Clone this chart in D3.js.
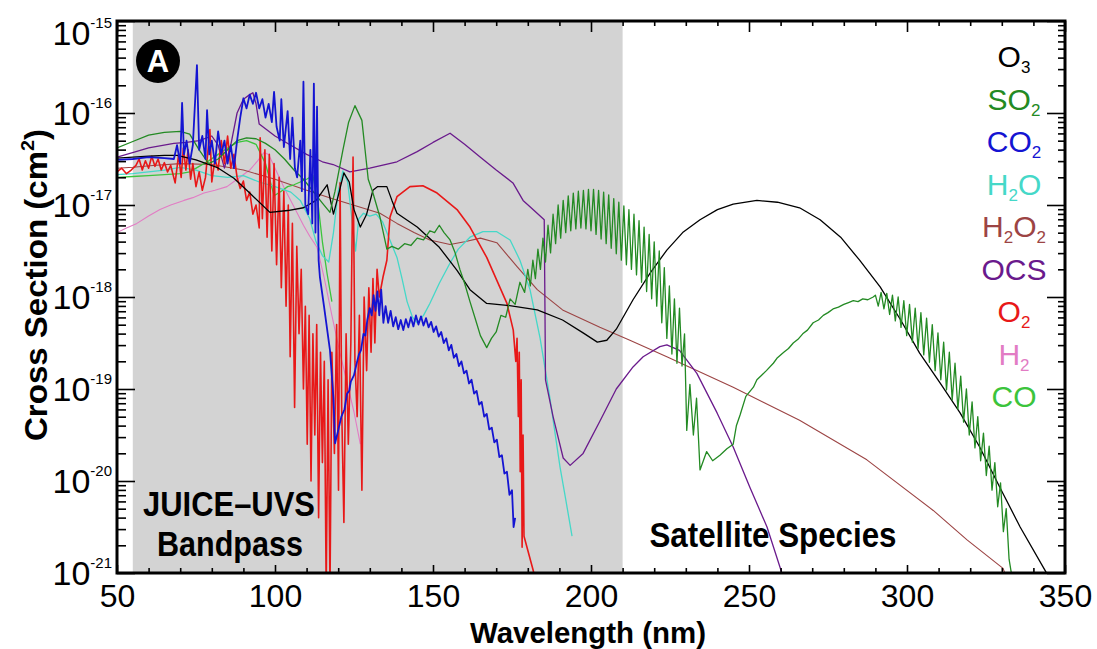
<!DOCTYPE html>
<html><head><meta charset="utf-8">
<script src="https://cdn.jsdelivr.net/npm/d3@7"></script>
<style>body{margin:0;background:#fff}svg{display:block}text{font-family:"Liberation Sans",Arial,sans-serif}</style>
</head><body><svg id="c" width="1097" height="649"></svg>
<script>
// ---------- data (wavelength nm, log10 cross-section cm^2) ----------
const xTicks = [50,100,150,200,250,300,350];
const yExps = [-21,-20,-19,-18,-17,-16,-15];
const bandpass = [55,210];
const legendNames = ["O_3","SO_2","CO_2","H_2O","H_2O_2","OCS","O_2","H_2","CO"];
const seriesColors = ["#000000","#238a23","#1414d2","#45d8c8","#9c4444","#6a1a8c","#e81818","#e27cc4","#3cc43c"];

const O3 = [[50,-16.49],[55,-16.48],[60,-16.47],[65,-16.46],[69,-16.46],[75,-16.51],[81.6,-16.59],[87,-16.71],[92,-16.87],[98.4,-17.08],[104,-17.06],[109,-17.03],[113,-16.95],[116.5,-16.78],[118.5,-17.10],[120,-16.90],[121.8,-16.65],[123.5,-16.75],[125,-17.05],[127,-17.24],[129,-17.10],[131,-16.84],[132.5,-16.80],[135.4,-16.80],[137,-16.95],[138.6,-17.09],[145,-17.24],[152,-17.46],[157.6,-17.71],[161.7,-17.92],[167,-18.07],[173.4,-18.09],[183,-18.14],[191,-18.25],[197.5,-18.39],[202,-18.49],[205,-18.47],[208,-18.35],[213.3,-18.03],[218.7,-17.74],[224,-17.49],[229,-17.30],[234.5,-17.16],[240,-17.05],[245,-16.99],[252.5,-16.95],[259,-16.97],[266,-17.03],[272.5,-17.16],[279,-17.35],[285,-17.60],[291.5,-17.89],[298,-18.25],[304,-18.61],[310.4,-18.93],[316.8,-19.26],[323,-19.63],[329.4,-20.07],[335.8,-20.50],[344,-20.99],[345,-21.10]];

const SO2 = [[50,-16.38],[55,-16.31],[60,-16.24],[65,-16.21],[70,-16.20],[73,-16.23],[76,-16.40],[79,-16.55],[82,-16.50],[85,-16.40],[88,-16.30],[91,-16.27],[94,-16.28],[97,-16.33],[100,-16.40],[103,-16.50],[106,-16.62],[109,-16.72],[112,-16.85],[115,-16.98],[117.4,-17.08],[119,-16.85],[121.5,-16.40],[123.3,-16.10],[125.3,-15.92],[127.5,-16.08],[128.5,-16.40],[129.5,-16.72],[131,-16.87],[133.2,-17.13],[135.4,-17.48],[137,-17.45],[139,-17.48],[141,-17.42],[143,-17.44],[145,-17.36],[147,-17.38],[149,-17.28],[150.5,-17.30],[152,-17.22],[153.5,-17.30],[155.4,-17.38],[157,-17.52],[158.5,-17.70],[160,-17.85],[161.7,-18.05],[163.5,-18.25],[165,-18.42],[167,-18.55],[168.5,-18.45],[170,-18.38],[171.5,-18.20],[173,-18.22],[174.4,-18.02],[176,-18.08],[177.5,-17.84],[179,-17.95],
[180.0,-17.70],[180.8,-17.88],[181.6,-17.60],[182.4,-17.80],[183.2,-17.48],[184.0,-17.70],[184.8,-17.36],[185.6,-17.62],[186.4,-17.22],[187.2,-17.52],[188.0,-17.10],[188.8,-17.42],[189.6,-17.00],[190.4,-17.36],[191.2,-16.95],[192.0,-17.30],[192.8,-16.90],[193.6,-17.28],[194.4,-16.87],[195.2,-17.26],[196.0,-16.85],[196.8,-17.25],[197.6,-16.84],[198.4,-17.26],[199.2,-16.83],[200.0,-17.28],[200.8,-16.83],[201.6,-17.32],[202.4,-16.84],[203.2,-17.37],[204.0,-16.86],[204.8,-17.42],[205.6,-16.89],[206.4,-17.47],[207.2,-16.93],[208.0,-17.53],[208.8,-16.97],[209.6,-17.60],[210.4,-17.01],[211.2,-17.65],[212.0,-17.05],[212.8,-17.70],[213.6,-17.10],[214.4,-17.76],[215.2,-17.17],[216.0,-17.84],[216.8,-17.24],[217.6,-17.94],[218.4,-17.32],[219.2,-18.02],[220.0,-17.40],[220.8,-18.10],[221.6,-17.50],[222.4,-18.28],[223.2,-17.68],[224.0,-18.45],[224.8,-17.88],[225.6,-18.62],[226.4,-18.02],[227.2,-18.72],[228.0,-18.12],[228.8,-18.75],[229.6,-18.40],[230.3,-19.45],[231.3,-18.95],[232.4,-19.50],[233.4,-19.10],[234.5,-19.88],[236.6,-19.68],[238.5,-19.78],[240.8,-19.72],[243,-19.65],[245,-19.60],[246,-19.40],[247.2,-19.28],[249,-19.08],[251.4,-18.98],[252.5,-18.90],[254,-18.85],[255.5,-18.80],[257.7,-18.72],[259,-18.66],[261,-18.60],[262.5,-18.56],[264,-18.50],[265.5,-18.46],[267,-18.40],[268.5,-18.36],[270.3,-18.28],[272,-18.25],[273.5,-18.20],[275,-18.17],[276.6,-18.13],[278.3,-18.11],[280,-18.08],[281.5,-18.06],[283,-18.04],[284.5,-18.05],[286,-18.02],[287.6,-18.03],[289.3,-18.00],
[290.0,-17.98],[290.9,-18.10],[291.8,-17.95],[292.7,-18.13],[293.6,-17.96],[294.5,-18.19],[295.4,-17.98],[296.3,-18.26],[297.2,-18.00],[298.1,-18.33],[299.0,-18.04],[299.9,-18.42],[300.8,-18.08],[301.7,-18.49],[302.6,-18.12],[303.5,-18.56],[304.4,-18.17],[305.3,-18.63],[306.2,-18.23],[307.1,-18.71],[308.0,-18.30],[308.9,-18.80],[309.8,-18.39],[310.7,-18.90],[311.6,-18.49],[312.5,-19.01],[313.4,-18.60],[314.3,-19.12],[315.2,-18.72],[316.1,-19.22],[317.0,-18.86],[317.9,-19.36],[318.8,-19.00],[319.7,-19.50],[320.6,-19.14],[321.5,-19.64],[322.4,-19.30],[323.3,-19.78],[324.2,-19.48],[325.1,-19.94],[326.0,-19.62],[326.9,-20.10],[327.8,-19.80],[328.7,-20.28],[329.6,-20.02],[330.5,-20.55],[331.4,-20.30],[332.3,-20.85],[333.5,-21.10]];

const CO2 = [[50,-16.51],[55,-16.50],[60,-16.48],[65,-16.49],[68,-16.50],[69,-16.35],[70,-16.55],[70.6,-15.89],[71.2,-16.45],[72,-16.30],[73,-16.55],[74,-16.35],[75.3,-15.48],[76,-16.40],[77,-16.25],[78,-16.50],[78.5,-15.97],[79.2,-16.45],[80,-16.30],[81,-16.55],[82,-16.20],[83,-16.45],[84,-16.30],[85,-16.55],[86,-16.35],[87,-16.60],[88,-16.30],[89,-16.05],[90,-15.84],[91,-15.95],[92,-15.80],[93,-15.90],[94,-15.78],[95,-15.95],[96,-15.85],[97,-16.05],[98,-15.90],[99,-16.10],[99.7,-15.77],[100.5,-16.15],[101.5,-16.30],[102,-15.85],[102.8,-16.37],[104,-15.98],[104.8,-16.50],[105.5,-16.05],[106.3,-16.60],[107,-16.70],[108,-16.30],[108.5,-16.85],[109,-15.66],[109.6,-17.00],[110.5,-17.10],[111.2,-16.40],[111.8,-17.20],[112.3,-15.68],[112.8,-17.30],[113.3,-15.93],[113.8,-17.60],[114.2,-17.78],[115.5,-18.10],[117.4,-18.58],[118.5,-19.10],[119,-19.59],[120,-19.45],[121,-19.30],[122,-19.22],[122.8,-19.05],[123.5,-19.02],[124,-18.92],[125,-18.85],[126,-18.70],[126.6,-18.62],[127.2,-18.58],[128,-18.40],[128.6,-18.42],[129.2,-18.25],[130,-18.12],[130.6,-18.20],[131.2,-17.98],[131.8,-18.15],[132.4,-17.94],[133,-18.20],[133.6,-17.92],[134.3,-18.28],[135,-18.10],[135.8,-18.28],[136.6,-18.15],[137.4,-18.32],[138.2,-18.22],[139,-18.35],[139.8,-18.25],[140.6,-18.36],[141.4,-18.24],[142.2,-18.33],[143,-18.22],[143.8,-18.32],[144.6,-18.20],[145.4,-18.30],[146.2,-18.21],[147,-18.31],[147.8,-18.23],[148.6,-18.33],[149.4,-18.27],[150.2,-18.38],[151,-18.32],[151.8,-18.43],[152.6,-18.38],[153.4,-18.50],[154.2,-18.45],[155,-18.58],[155.8,-18.52],[156.6,-18.66],[157.4,-18.62],[158.2,-18.75],[159,-18.70],[159.8,-18.83],[160.6,-18.80],[161.4,-18.94],[162.2,-18.90],[163,-19.05],[163.8,-19.02],[164.6,-19.17],[165.4,-19.14],[166.2,-19.30],[167,-19.27],[167.8,-19.44],[168.6,-19.42],[169.4,-19.58],[170.2,-19.55],[171,-19.74],[171.8,-19.72],[172.6,-19.92],[173.4,-19.90],[174.2,-20.15],[175,-20.10],[175.5,-20.50],[176,-20.40]];

const H2O = [[50,-16.67],[55,-16.66],[60,-16.64],[65,-16.62],[70,-16.59],[75,-16.62],[80,-16.68],[85,-16.70],[90,-16.68],[95,-16.75],[100,-16.80],[105,-16.86],[108,-16.95],[111,-17.15],[113,-17.40],[115,-17.55],[117,-17.62],[118.5,-17.30],[120,-16.85],[121.5,-16.63],[123,-16.75],[124.5,-17.20],[125.5,-17.50],[126.5,-17.15],[128,-17.09],[130,-17.12],[132,-17.10],[134,-17.18],[136,-17.35],[138.6,-17.57],[140.2,-17.80],[141.8,-18.05],[143.5,-18.22],[145,-18.28],[147,-18.20],[149,-18.07],[152,-17.85],[155.4,-17.63],[158,-17.48],[161.7,-17.35],[165.8,-17.29],[170.2,-17.29],[174.4,-17.38],[177.5,-17.60],[180.7,-17.92],[183.9,-18.45],[187,-19.10],[190.2,-19.85],[192,-20.20],[194,-20.60]];

const H2O2 = [[50,-16.60],[55,-16.59],[61.4,-16.57],[70,-16.55],[80,-16.56],[90,-16.62],[100,-16.72],[110,-16.84],[118,-16.93],[124.7,-17.00],[133.2,-17.09],[138.6,-17.20],[144,-17.30],[149,-17.38],[155.4,-17.43],[160,-17.40],[165,-17.36],[170.2,-17.41],[176.6,-17.67],[183,-17.92],[191,-18.14],[202.8,-18.33],[212.3,-18.47],[224,-18.65],[245,-18.98],[266,-19.34],[287.3,-19.77],[308.3,-20.32],[319,-20.64],[330.4,-20.95],[331.5,-21.05]];

const OCS = [[50,-16.48],[56,-16.42],[60,-16.38],[68,-16.33],[72,-16.32],[76,-16.30],[80,-16.25],[82,-16.35],[84,-16.60],[86,-16.35],[88,-16.00],[90,-15.85],[92,-15.80],[93,-15.78],[94,-15.90],[95,-16.12],[100,-16.25],[105,-16.35],[110,-16.45],[115,-16.53],[118.4,-16.56],[123.7,-16.64],[130,-16.60],[138.6,-16.53],[145,-16.42],[150,-16.32],[155.4,-16.22],[160,-16.34],[165,-16.48],[170,-16.62],[175.3,-16.76],[178.5,-16.95],[182,-17.06],[185.2,-17.16],[185.4,-18.00],[185.6,-18.90],[188,-19.30],[191.2,-19.75],[193.4,-19.83],[197.5,-19.70],[202.8,-19.35],[208,-19.00],[213.3,-18.76],[216.5,-18.65],[221.8,-18.54],[224,-18.52],[228,-18.58],[233.5,-18.83],[239.9,-19.26],[245,-19.63],[250.3,-20.07],[255.7,-20.50],[260.4,-21.00],[261,-21.10]];

const O2 = [[50,-16.64],[51.5,-16.60],[53,-16.66],[54.5,-16.62],[56,-16.57],[57,-16.50],[58,-16.62],[59,-16.52],[60,-16.60],[61,-16.47],[62,-16.58],[63,-16.50],[64,-16.62],[65,-16.54],[66,-16.64],[67,-16.57],[68.4,-16.76],[69.5,-16.45],[70.3,-16.70],[71,-16.38],[71.8,-16.62],[72.5,-16.40],[73.3,-16.72],[74,-16.55],[75,-16.80],[76,-16.64],[77,-16.84],[78,-16.70],[79.4,-16.18],[80,-16.75],[81,-16.50],[82,-16.62],[83,-16.30],[84,-16.55],[85,-16.25],[86,-16.60],[87,-16.45],[88,-16.70],[89,-16.82],[90,-16.74],[91,-16.95],[92,-16.86],[93,-17.10],[94,-17.00],[95,-17.25],[95.3,-16.27],[96,-17.15],[96.8,-16.40],[97.5,-17.35],[98.2,-16.45],[99,-17.50],[99.7,-16.55],[100.5,-17.65],[101.3,-16.70],[102,-17.90],[102.8,-16.85],[103.5,-18.10],[104.2,-17.00],[104.8,-18.65],[105.5,-17.20],[106.2,-19.20],[106.9,-17.45],[107.6,-18.40],[108.3,-17.70],[109,-19.00],[109.6,-18.10],[110.2,-19.60],[110.8,-18.20],[111.4,-20.00],[112,-18.40],[112.6,-19.50],[113.2,-18.30],[113.8,-20.40],[114.4,-18.60],[115,-19.80],[115.6,-18.70],[116.2,-21.20],[116.8,-18.90],[117.4,-21.20],[118,-18.60],[118.8,-19.70],[119.5,-18.30],[120.1,-20.10],[120.6,-16.76],[121.1,-19.20],[121.8,-20.45],[122.5,-18.40],[123.2,-19.60],[124,-18.50],[124.7,-16.48],[125.3,-18.70],[126,-19.30],[126.7,-18.20],[127.5,-20.10],[128.2,-18.00],[129,-18.80],[129.7,-17.90],[130.4,-18.60],[131,-17.80],[131.6,-18.50],[132.3,-17.70],[133,-18.00],[134.2,-17.78],[135.4,-17.60],[136.4,-17.13],[138.6,-16.91],[142.7,-16.80],[146.8,-16.79],[151.3,-16.87],[157.6,-17.05],[161.7,-17.24],[167,-17.57],[170.2,-17.82],[173.4,-18.07],[175.4,-18.36],[176.2,-18.70],[176.6,-18.45],[177,-19.30],[177.3,-18.60],[177.6,-19.90],[177.9,-18.90],[178.2,-20.72],[178.5,-19.50],[178.8,-20.60],[181.7,-20.97],[182.5,-21.10]];

const H2 = [[50,-17.30],[53,-17.25],[56.3,-17.20],[60,-17.12],[63.6,-17.05],[67,-17.00],[71.2,-16.95],[74,-16.92],[77.5,-16.87],[81,-16.84],[84.8,-16.80],[88,-16.72],[92,-16.62],[94.5,-16.52],[96.5,-16.43],[98,-16.45],[100,-16.60],[103,-16.82],[106,-17.02],[109,-17.22],[111,-17.34],[113.3,-17.46],[115.5,-17.78],[118,-18.20],[120.5,-18.60],[122.8,-18.93],[125,-19.25],[127,-19.60]];

const CO = [[50,-16.70],[55,-16.69],[60,-16.68],[65,-16.67],[70,-16.66],[73,-16.64],[76,-16.58],[79,-16.52],[82,-16.45],[85,-16.38],[88,-16.32],[91,-16.30],[94,-16.34],[97,-16.55],[99.7,-16.90],[102,-16.85],[104,-16.80],[106,-16.78],[108,-16.75],[110,-16.72],[112,-16.68],[113.5,-16.95],[115,-17.40],[116.5,-17.75],[118,-18.05]];

const seriesData = [O3,SO2,CO2,H2O,H2O2,OCS,O2,H2,CO];

// ---------- layout ----------
const m = {l:117, r:1065, t:21, b:573};
const x = d3.scaleLinear().domain([50,350]).range([m.l,m.r]);
const y = d3.scaleLog().domain([1e-21,1e-15]).range([m.b,m.t]);
const svg = d3.select("#c");

svg.append("defs").append("clipPath").attr("id","clip")
  .append("rect").attr("x",m.l).attr("y",m.t).attr("width",m.r-m.l).attr("height",m.b-m.t);

svg.append("rect").attr("x",x(bandpass[0])).attr("y",m.t)
  .attr("width",x(bandpass[1])-x(bandpass[0])).attr("height",m.b-m.t).attr("fill","#d3d3d3");

const line = d3.line().x(d=>x(d[0])).y(d=>y(Math.pow(10,d[1])));
const widths = [1.3,1.3,1.8,1.3,1.1,1.3,1.6,1.1,1.3];
const drawOrder = [7,4,8,3,5,6,0,1,2];
const gl = svg.append("g").attr("clip-path","url(#clip)");
drawOrder.forEach(i=>{
  gl.append("path").datum(seriesData[i]).attr("d",line)
    .attr("fill","none").attr("stroke",seriesColors[i])
    .attr("stroke-width",widths[i]).attr("stroke-linejoin","round");
});

// ---------- axes ----------
const minorX = d3.range(50,351,10).filter(v=>v%50!==0);
const majY = yExps.map(e=>Math.pow(10,e));
const minorY = [];
yExps.slice(0,-1).forEach(e=>{ for(let k=2;k<=9;k++) minorY.push(k*Math.pow(10,e)); });

function styleAxis(g){ g.select(".domain").remove(); g.selectAll("line").attr("stroke","#000").attr("stroke-width",1.6); }

svg.append("g").attr("transform",`translate(0,${m.b})`)
  .call(d3.axisBottom(x).tickValues(xTicks).tickSize(-8).tickPadding(11).tickFormat(d3.format("d")))
  .call(styleAxis)
  .call(g=>g.selectAll("text").attr("font-size",32).attr("fill","#000").attr("font-family","Liberation Sans, Arial, sans-serif"));
svg.append("g").attr("transform",`translate(0,${m.b})`)
  .call(d3.axisBottom(x).tickValues(minorX).tickSize(-5).tickFormat("")).call(styleAxis);
svg.append("g").attr("transform",`translate(0,${m.t})`)
  .call(d3.axisTop(x).tickValues(xTicks).tickSize(-11).tickFormat("")).call(styleAxis);
svg.append("g").attr("transform",`translate(0,${m.t})`)
  .call(d3.axisTop(x).tickValues(minorX).tickSize(-5).tickFormat("")).call(styleAxis);
svg.append("g").attr("transform",`translate(${m.l},0)`)
  .call(d3.axisLeft(y).tickValues(majY).tickSize(-18).tickFormat("")).call(styleAxis);
svg.append("g").attr("transform",`translate(${m.l},0)`)
  .call(d3.axisLeft(y).tickValues(minorY).tickSize(-9).tickFormat("")).call(styleAxis);
svg.append("g").attr("transform",`translate(${m.r},0)`)
  .call(d3.axisRight(y).tickValues(majY).tickSize(-18).tickFormat("")).call(styleAxis);
svg.append("g").attr("transform",`translate(${m.r},0)`)
  .call(d3.axisRight(y).tickValues(minorY).tickSize(-7).tickFormat("")).call(styleAxis);

// frame
svg.append("rect").attr("x",m.l).attr("y",m.t).attr("width",m.r-m.l).attr("height",m.b-m.t)
  .attr("fill","none").attr("stroke","#000").attr("stroke-width",3);

// y tick labels
yExps.forEach(e=>{
  const ty = Math.max(y(Math.pow(10,e)),33);
  const t = svg.append("text").attr("x",112).attr("y",ty+12).attr("text-anchor","end").attr("fill","#000");
  t.append("tspan").attr("font-size",34).text("10");
  t.append("tspan").attr("font-size",15).attr("dy",-17).text(String(e));
});

// axis titles
const yt = svg.append("text").attr("transform","translate(47,285) rotate(-90)")
  .attr("text-anchor","middle").attr("font-weight","bold").attr("font-size",32)
  .attr("textLength",312).attr("lengthAdjust","spacingAndGlyphs");
yt.append("tspan").text("Cross Section (cm");
yt.append("tspan").attr("font-size",19).attr("dy",-13).text("2");
yt.append("tspan").attr("dy",13).text(")");

svg.append("text").attr("x",588).attr("y",643).attr("text-anchor","middle")
  .attr("font-weight","bold").attr("font-size",30)
  .attr("textLength",236).attr("lengthAdjust","spacingAndGlyphs").text("Wavelength (nm)");

// region labels
function boldLabel(txt,cx,by,len){
  svg.append("text").attr("x",cx).attr("y",by).attr("text-anchor","middle")
    .attr("font-weight","bold").attr("font-size",35).attr("fill","#000")
    .attr("textLength",len).attr("lengthAdjust","spacingAndGlyphs").text(txt);
}
boldLabel("JUICE\u2013UVS",229,516,172);
boldLabel("Bandpass",230,556,146);
boldLabel("Satellite Species",773,547,247);

// panel badge
svg.append("circle").attr("cx",158).attr("cy",61).attr("r",22).attr("fill","#000");
svg.append("text").attr("x",158).attr("y",72).attr("text-anchor","middle")
  .attr("font-weight","bold").attr("font-size",31).attr("fill","#fff").text("A");

// legend
legendNames.forEach((name,i)=>{
  const t = svg.append("text").attr("x",1014).attr("y",67+i*42.5)
    .attr("text-anchor","middle").attr("fill",seriesColors[i]).attr("font-size",30);
  const parts = name.split(/(_\d)/).filter(s=>s.length);
  let shifted = false;
  parts.forEach(p=>{
    if(p[0]==="_"){ t.append("tspan").attr("font-size",17).attr("dy",6).text(p.slice(1)); shifted=true; }
    else { const s=t.append("tspan").text(p); if(shifted){ s.attr("dy",-6); shifted=false; } }
  });
});
</script></body></html>
